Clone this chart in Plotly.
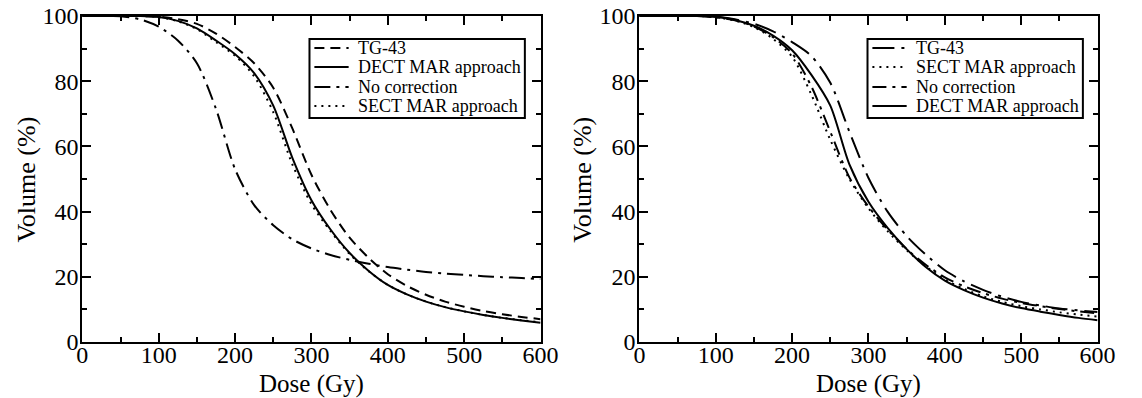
import plotly.graph_objects as go

# Dose grid (Gy), 25 Gy steps
dose = list(range(0, 601, 25))

# Left panel: cumulative DVH, volume (%)
left_tg43 = [100, 100, 100, 100, 99.8, 99.0, 97.6, 94.6, 90.5, 85.5, 78.0, 65.5, 51.3,
             40.5, 32.0, 25.8, 20.8, 17.2, 14.5, 12.4, 10.8, 9.5, 8.5, 7.7, 7.0]
left_dect = [100, 100, 100, 100, 99.7, 98.5, 96.2, 92.5, 88.3, 82.5, 72.5, 56.5, 43.5,
             34.5, 27.3, 21.8, 17.5, 14.6, 12.4, 10.7, 9.4, 8.3, 7.4, 6.6, 5.9]
left_nocorr = [100, 100, 99.9, 99.0, 96.7, 92.5, 85.5, 71.5, 53.0, 42.0, 35.8, 31.5, 28.7,
               26.7, 25.2, 24.0, 23.0, 22.2, 21.5, 21.0, 20.6, 20.2, 19.9, 19.6, 19.3]
left_sect = [100, 100, 100, 100, 99.7, 98.4, 96.0, 92.0, 87.8, 81.5, 70.5, 54.5, 42.3,
             34.0, 27.0, 21.7, 17.5, 14.6, 12.4, 10.7, 9.4, 8.3, 7.4, 6.7, 6.0]

# Right panel
right_tg43 = [100, 100, 100, 100, 99.8, 99.0, 97.6, 95.3, 92.0, 87.8, 79.5, 64.5, 50.3,
              40.0, 32.5, 26.8, 22.0, 18.6, 16.0, 13.9, 12.3, 11.2, 10.3, 9.7, 9.2]
right_sect = [100, 100, 100, 100, 99.6, 98.6, 96.6, 93.0, 87.5, 76.0, 62.0, 50.0, 41.0,
              34.0, 28.2, 23.2, 19.2, 16.3, 14.0, 12.3, 11.0, 10.0, 9.1, 8.4, 7.8]
right_nocorr = [100, 100, 100, 100, 99.6, 98.7, 96.8, 93.5, 88.5, 78.5, 64.5, 50.5, 41.5,
                34.5, 28.5, 23.7, 19.8, 17.1, 15.0, 13.3, 12.0, 11.0, 10.1, 9.4, 8.8]
right_dect = [100, 100, 100, 100, 99.7, 98.8, 97.0, 94.0, 89.5, 82.0, 72.5, 54.5, 43.0,
              35.0, 28.5, 23.0, 18.8, 15.9, 13.6, 11.8, 10.4, 9.3, 8.3, 7.4, 6.7]

x_ticks = [0, 100, 200, 300, 400, 500, 600]
y_ticks = [0, 20, 40, 60, 80, 100]

W, H = 1142, 398
T, B = 16, 56
PH = H - T - B
FONT = "Liberation Serif"

# Line styles per series
STYLE_L = {
    "TG-43": "10px,6px",
    "DECT MAR approach": "solid",
    "No correction": "16px,6px,3px,6px",
    "SECT MAR approach": "2px,5px",
}
STYLE_R = {
    "TG-43": "22px,7px,3px,7px",
    "SECT MAR approach": "2px,5px",
    "No correction": "14px,6px,3px,6px",
    "DECT MAR approach": "solid",
}

left_series = [("TG-43", left_tg43), ("DECT MAR approach", left_dect),
               ("No correction", left_nocorr), ("SECT MAR approach", left_sect)]
right_series = [("TG-43", right_tg43), ("SECT MAR approach", right_sect),
                ("No correction", right_nocorr), ("DECT MAR approach", right_dect)]

fig = go.Figure()

for name, vals in left_series:
    fig.add_trace(go.Scatter(
        x=dose, y=vals, name=name, mode="lines", showlegend=False,
        line=dict(color="black", width=2, dash=STYLE_L[name], shape="spline", smoothing=0.8),
        xaxis="x", yaxis="y"))
for name, vals in right_series:
    fig.add_trace(go.Scatter(
        x=dose, y=vals, name=name, mode="lines", showlegend=False,
        line=dict(color="black", width=2, dash=STYLE_R[name], shape="spline", smoothing=0.8),
        xaxis="x2", yaxis="y2"))


def px_x(p):
    return p / W


def px_y(p):
    return (T + PH - p) / PH


axis_common = dict(
    showline=True, linecolor="black", linewidth=2, mirror="allticks",
    ticks="inside", ticklen=9, tickwidth=2, tickcolor="black",
    showgrid=False, zeroline=False,
    tickfont=dict(family=FONT, size=24, color="black"),
    minor=dict(ticks="inside", ticklen=5, tickwidth=2, tickcolor="black", showgrid=False),
)

xaxis = dict(axis_common, range=[0, 600], tickvals=x_ticks, minor_dtick=50,
             ticklabelstandoff=-10)
yaxis = dict(axis_common, range=[0, 100], tickvals=y_ticks, minor_dtick=10,
             ticklabelstandoff=-3)

shapes = []
annotations = []


def add_legend(x0, y0, x1, y1, series, styles):
    shapes.append(dict(type="rect", xref="paper", yref="paper",
                       x0=px_x(x0), x1=px_x(x1), y0=px_y(y0), y1=px_y(y1),
                       line=dict(color="black", width=2), fillcolor="white", layer="above"))
    rows = [48, 67, 87, 106]
    for (name, _), yc in zip(series, rows):
        shapes.append(dict(type="line", xref="paper", yref="paper",
                           x0=px_x(x0 + 5), x1=px_x(x0 + 40), y0=px_y(yc), y1=px_y(yc),
                           line=dict(color="black", width=2, dash=styles[name]), layer="above"))
        annotations.append(dict(text=name, xref="paper", yref="paper",
                                x=px_x(x0 + 48), y=px_y(yc), xanchor="left", yanchor="middle",
                                showarrow=False,
                                font=dict(family=FONT, size=18, color="black")))


add_legend(310, 39, 530, 118, left_series, STYLE_L)
add_legend(880, 39, 1100, 118, right_series, STYLE_R)

# Axis titles
for xc in (312, 881):
    annotations.append(dict(text="Dose (Gy)", xref="paper", yref="paper",
                            x=px_x(xc), y=px_y(384), xanchor="center", yanchor="middle",
                            showarrow=False, font=dict(family=FONT, size=25, color="black")))
for xc in (20, 588):
    annotations.append(dict(text="Volume (%)", xref="paper", yref="paper",
                            x=px_x(xc), y=px_y(180), xanchor="center", yanchor="middle",
                            textangle=-90, showarrow=False,
                            font=dict(family=FONT, size=26, color="black")))

fig.update_layout(
    width=W, height=H,
    margin=dict(l=0, r=0, t=T, b=B),
    paper_bgcolor="white", plot_bgcolor="white",
    xaxis=dict(xaxis, domain=[78 / W, 546 / W], anchor="y"),
    yaxis=dict(yaxis, domain=[0, 1], anchor="x"),
    xaxis2=dict(xaxis, domain=[647 / W, 1115 / W], anchor="y2"),
    yaxis2=dict(yaxis, domain=[0, 1], anchor="x2"),
    shapes=shapes,
    annotations=annotations,
    showlegend=False,
)

fig.write_html("out.html")
